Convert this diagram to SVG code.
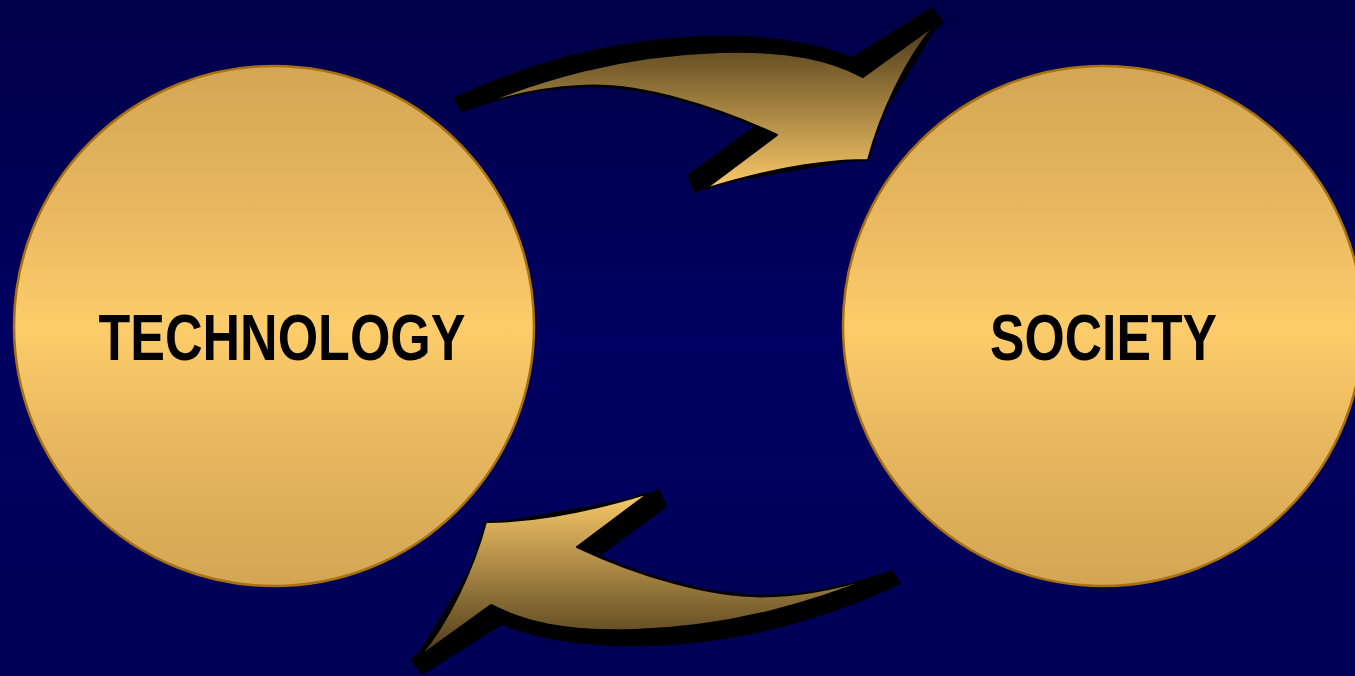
<svg xmlns="http://www.w3.org/2000/svg" width="1355" height="676" viewBox="0 0 1355 676">
<defs>
<linearGradient id="bg" x1="0" y1="0" x2="0" y2="1">
<stop offset="0" stop-color="#000048"/>
<stop offset="0.5" stop-color="#000062"/>
<stop offset="1" stop-color="#000056"/>
</linearGradient>
<linearGradient id="ball" x1="0" y1="0" x2="0" y2="1">
<stop offset="0" stop-color="#d2a654"/>
<stop offset="0.28" stop-color="#e8b860"/>
<stop offset="0.5" stop-color="#fdcc6a"/>
<stop offset="0.72" stop-color="#e8b860"/>
<stop offset="1" stop-color="#d2a654"/>
</linearGradient>
<linearGradient id="arr" gradientUnits="userSpaceOnUse" x1="0" y1="25" x2="0" y2="190">
<stop offset="0" stop-color="#4a3818"/>
<stop offset="1" stop-color="#fccb6a"/>
</linearGradient>
<g id="arrow">
<path class="shadow" d="M453,98 C522,66 602,40 702,36 C775,34 818,44 852,57 L932,7 L944,22 L935,30 L880,120 L868,158 L708,186 L695,194 L687,175 L757,124 L770,134 C720,110 640,84 580,88 C540,88 500,98 471,108 L462,113 Z"/>
<path class="body" d="M471,108 C540,80 620,55 720,52 C790,50 830,60 863,77 L935,25 C905,60 880,115 868,160 C820,160 760,172 705,189 L777,135 C720,108 640,82 580,86 C540,88 500,98 471,108 Z"/>
</g>
</defs>
<style>
.shadow{fill:#000}
.body{fill:url(#arr);stroke:#000;stroke-width:2;stroke-linejoin:round}
.node circle{fill:url(#ball);stroke:#a8700f;stroke-width:2.5}
.node text{font-family:"Liberation Sans",Arial,sans-serif;font-weight:bold;font-size:64px;fill:#000;text-anchor:middle}
</style>
<rect width="1355" height="676" fill="url(#bg)"/>
<g id="node-technology" class="node">
<circle cx="274" cy="326" r="260"/>
<text x="282" y="360" textLength="367" lengthAdjust="spacingAndGlyphs">TECHNOLOGY</text>
</g>
<g id="node-society" class="node">
<circle cx="1103" cy="326" r="260"/>
<text x="1103.5" y="360" textLength="227" lengthAdjust="spacingAndGlyphs">SOCIETY</text>
</g>
<g id="connectors">
<use href="#arrow"/>
<use href="#arrow" transform="rotate(180 677 341)"/>
</g>
</svg>
